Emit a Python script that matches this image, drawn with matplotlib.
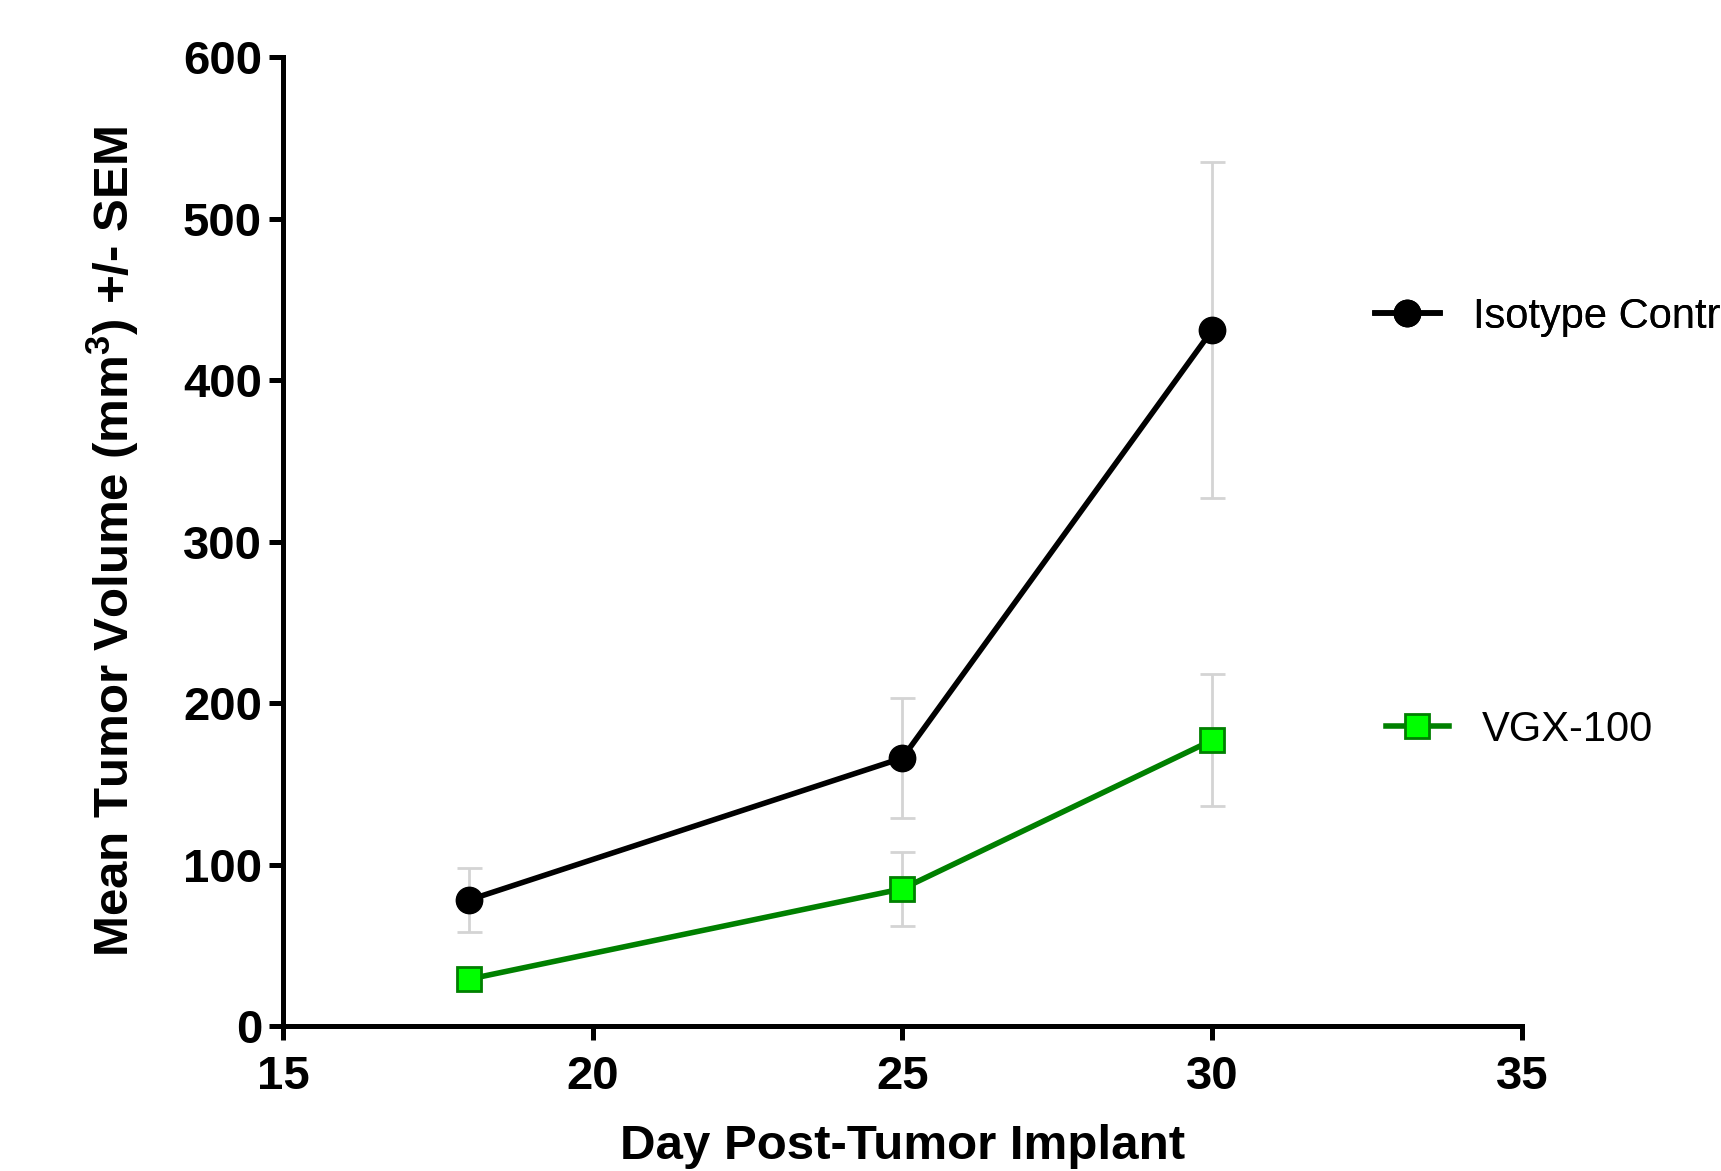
import matplotlib
matplotlib.use("Agg")
import matplotlib.pyplot as plt

plt.rcParams['font.family'] = ['Liberation Sans', 'DejaVu Sans']
plt.rcParams['mathtext.fontset'] = 'custom'
plt.rcParams['mathtext.rm'] = 'Liberation Sans'
plt.rcParams['mathtext.default'] = 'regular'

days = [18, 25, 30]

isotype_mean = [78, 166, 431]
isotype_sem = [20, 37, 104]

vgx_mean = [29, 85, 177]
vgx_sem = [3, 23, 41]

fig = plt.figure(figsize=(17.21, 11.71), dpi=100)
ax = fig.add_axes([0.1644, 0.1238, 0.72, 0.8275])

# error bars (light grey, behind)
ax.errorbar(days, isotype_mean, yerr=isotype_sem, fmt='none', ecolor='#d4d4d4',
            elinewidth=2, capsize=9, capthick=2, zorder=1)
ax.errorbar(days, vgx_mean, yerr=vgx_sem, fmt='none', ecolor='#d4d4d4',
            elinewidth=2, capsize=9, capthick=2, zorder=1)

l1, = ax.plot(days, isotype_mean, color='black', lw=4, marker='o', ms=19,
              markerfacecolor='black', markeredgecolor='black', zorder=3)
l2, = ax.plot(days, vgx_mean, color='#008000', lw=4, marker='s', ms=17,
              markerfacecolor='#00ff00', markeredgecolor='#008000', markeredgewidth=2, zorder=3)

ax.set_xlim(15, 35)
ax.set_ylim(0, 600)
ax.set_xticks([15, 20, 25, 30, 35])
ax.set_yticks([0, 100, 200, 300, 400, 500, 600])

for s in ['top', 'right']:
    ax.spines[s].set_visible(False)
for s in ['left', 'bottom']:
    ax.spines[s].set_linewidth(3.6)

ax.tick_params(axis='both', width=3.6, length=10, labelsize=34)
ax.tick_params(axis='y', pad=5)
ax.tick_params(axis='x', pad=11)
for t in ax.get_xticklabels() + ax.get_yticklabels():
    t.set_fontweight('bold')

ax.set_xlabel('Day Post-Tumor Implant', fontsize=35.5, fontweight='bold', labelpad=18)
ax.set_ylabel(r'Mean Tumor Volume (mm$^3$) +/- SEM', fontsize=35.5, fontweight='bold', labelpad=30)

leg1 = fig.legend([l1], ['Isotype Control'], loc='center left',
                  bbox_to_anchor=(1375 / 1721, 1 - 317 / 1171), frameon=False,
                  fontsize=30, borderpad=0, borderaxespad=0, handlelength=1.55, handletextpad=0.8)
leg2 = fig.legend([l2], ['VGX-100'], loc='center left',
                  bbox_to_anchor=(1386 / 1721, 1 - 730 / 1171), frameon=False,
                  fontsize=30, borderpad=0, borderaxespad=0, handlelength=1.5, handletextpad=0.8)
fig.add_artist(leg1)

fig.savefig('out.png', dpi=100)
